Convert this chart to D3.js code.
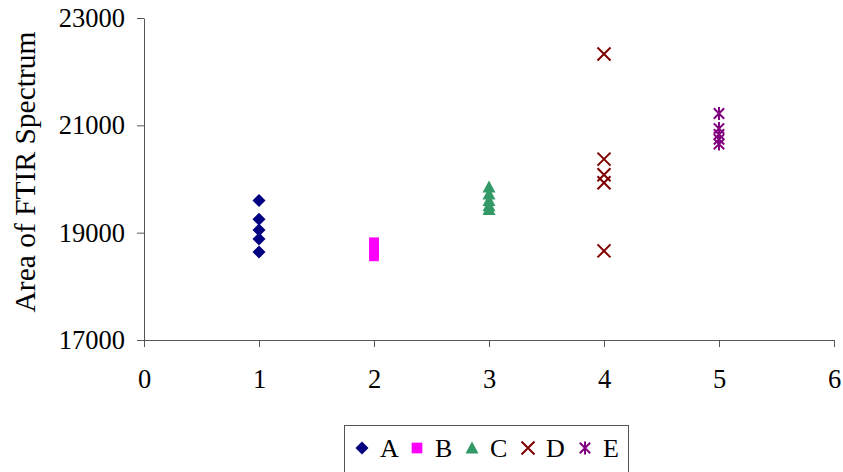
<!DOCTYPE html>
<html>
<head>
<meta charset="utf-8">
<script src="https://cdn.jsdelivr.net/npm/d3@7/dist/d3.min.js"></script>
<style>
  html, body { margin: 0; padding: 0; background: #fff; }
  svg { display: block; }
  text { font-family: "Liberation Serif", "Times New Roman", serif; fill: #000; }
</style>
</head>
<body>
<svg id="chart" width="843" height="472"></svg>
<script>
// Series: sample group, x position and measured areas
const categories = ["A", "B", "C", "D", "E"];
const xPositions = [1, 2, 3, 4, 5];
const valuesA = [19600, 19250, 19050, 18880, 18640];
const valuesB = [18820, 18760, 18700, 18630, 18560];
const valuesC = [19850, 19720, 19600, 19500, 19430];
const valuesD = [22330, 20370, 20080, 19930, 18660];
const valuesE = [21220, 20940, 20830, 20740, 20650];
const colors = ["#000080", "#FF00FF", "#339966", "#800000", "#800080"];
const markers = ["diamond", "square", "triangle", "cross", "star"];

// Axis ticks
const xTicks = [0, 1, 2, 3, 4, 5, 6];
const yTicks = [17000, 19000, 21000, 23000];
const yTitle = "Area of FTIR Spectrum";

const seriesValues = [valuesA, valuesB, valuesC, valuesD, valuesE];
const series = categories.map((name, i) => ({
  name, color: colors[i], marker: markers[i],
  points: seriesValues[i].map(v => ({ x: xPositions[i], y: v }))
}));

const svg = d3.select("#chart");
const x = d3.scaleLinear().domain([0, 6]).range([144, 834]);
const y = d3.scaleLinear().domain([17000, 23000]).range([340, 18]);
const axisColor = "#555";

// Marker shapes, centered at the origin
function markerPath(type, s) {
  const h = s / 2;
  switch (type) {
    case "diamond": return `M0,${-h}L${h},0L0,${h}L${-h},0Z`;
    case "square": { const q = h * 0.82; return `M${-q},${-q}H${q}V${q}H${-q}Z`; }
    case "triangle": return `M0,${-h}L${h},${h * 0.85}L${-h},${h * 0.85}Z`;
    case "cross": return `M${-h},${-h}L${h},${h}M${h},${-h}L${-h},${h}`;
    case "star": { const k = h * 0.8; return `M${-k},${-k}L${k},${k}M${k},${-k}L${-k},${k}M0,${-h}V${h}`; }
  }
}
function drawMarker(g, type, color, s) {
  const stroked = type === "cross" || type === "star";
  g.append("path")
    .attr("d", markerPath(type, s))
    .attr("fill", stroked ? "none" : color)
    .attr("stroke", stroked ? color : "none")
    .attr("stroke-width", stroked ? 2 : 0);
}

// Axes
const yAxis = svg.append("g")
  .attr("transform", `translate(${x(0)},0)`)
  .call(d3.axisLeft(y).tickValues(yTicks).tickFormat(d3.format("d"))
    .tickSize(7).tickSizeOuter(0).tickPadding(12));
const xAxis = svg.append("g")
  .attr("transform", `translate(0,${y(17000)})`)
  .call(d3.axisBottom(x).tickValues(xTicks).tickFormat(d3.format("d"))
    .tickSize(7).tickSizeOuter(0).tickPadding(22));
[yAxis, xAxis].forEach(a => {
  a.selectAll("path, line").attr("stroke", axisColor).attr("stroke-width", 1);
  a.selectAll("text").attr("font-size", 26.5)
    .style("font-family", '"Liberation Serif", "Times New Roman", serif').attr("fill", "#000");
});

// Axis title
svg.append("text")
  .attr("transform", `translate(35,172) rotate(-90)`)
  .attr("text-anchor", "middle")
  .attr("font-size", 29.5)
  .text(yTitle);

// Points
const plot = svg.append("g");
series.forEach(s => {
  s.points.forEach(p => {
    const g = plot.append("g").attr("transform", `translate(${x(p.x)},${y(p.y)})`);
    drawMarker(g, s.marker, s.color, s.marker === "square" ? 12 : 13);
  });
});

// Legend
const legend = svg.append("g");
legend.append("rect")
  .attr("x", 344.5).attr("y", 425.5).attr("width", 284).attr("height", 60)
  .attr("fill", "#fff").attr("stroke", axisColor).attr("stroke-width", 1);
const legendX = [362, 417, 472, 528, 585];
series.forEach((s, i) => {
  const g = legend.append("g").attr("transform", `translate(${legendX[i]},448)`);
  drawMarker(g, s.marker, s.color, 13);
  legend.append("text")
    .attr("x", legendX[i] + 18).attr("y", 457)
    .attr("font-size", 26)
    .text(s.name);
});
</script>
</body>
</html>
